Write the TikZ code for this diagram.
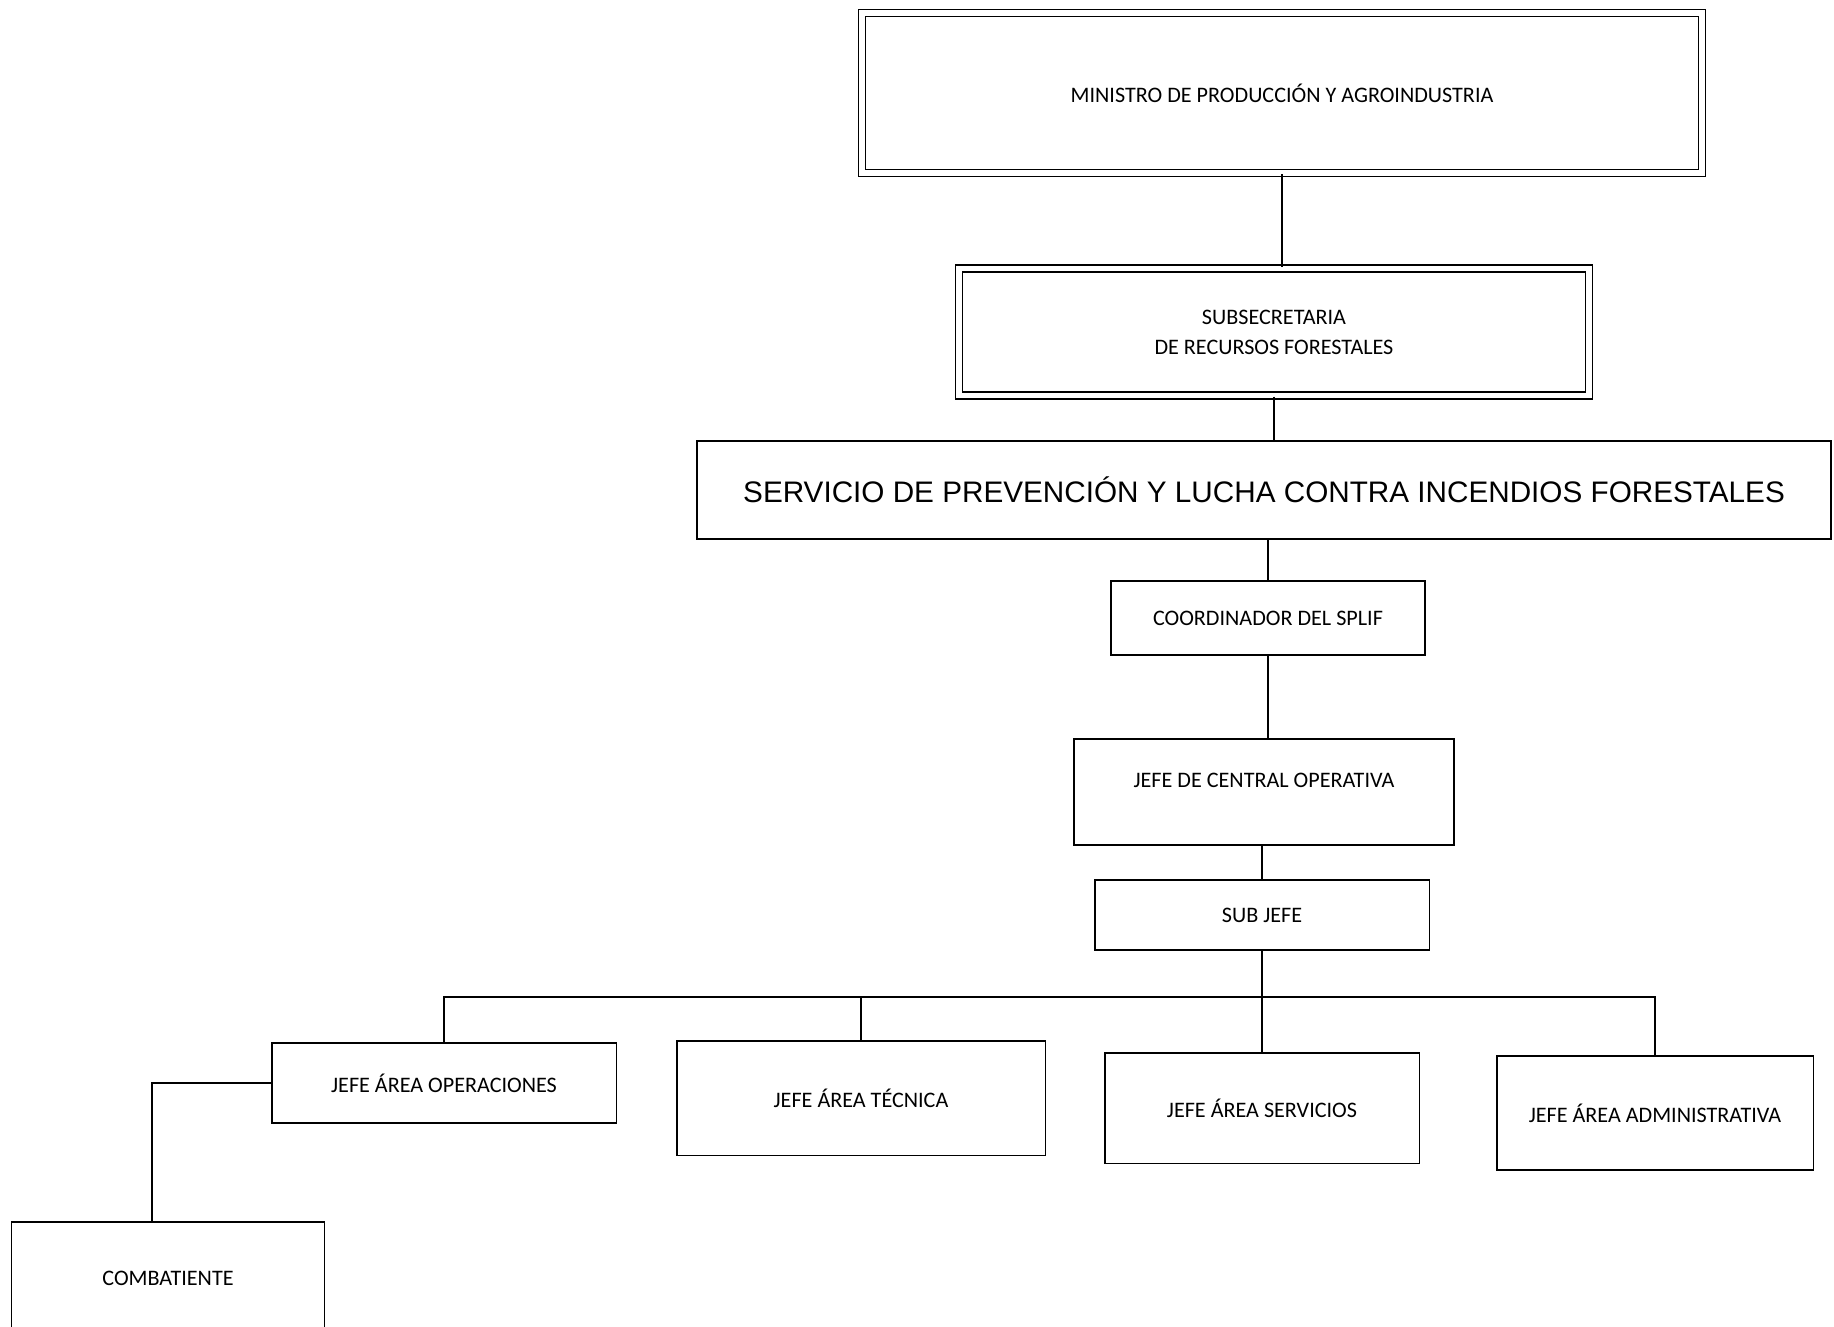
\documentclass[tikz,border=0pt]{standalone}
\usepackage{fontspec}
\setmainfont{Carlito}
\newfontfamily\bigfont{Liberation Sans}
\tikzset {
    box/.style = {draw, line width = 1.1pt, inner sep = 2pt, align = center,
        font = \fontsize{12.6}{17}\selectfont},
    double box/.style = {box, double, line width = 1pt, double distance = 3pt},
    link/.style = {line width = 0.9pt}
}
\begin{document}
\begin{tikzpicture}[x = 0.02cm, y = -0.02cm]
    \useasboundingbox (0, 0) rectangle (1834, 1326);
    % upper chain
    \node (min) [double box, minimum width = 16.8cm, minimum height = 3.2cm]
        at (1282, 93) {MINISTRO DE PRODUCCIÓN Y AGROINDUSTRIA};
    \node (sub) [double box, minimum width = 12.6cm, minimum height = 2.55cm]
        at (1274, 332) {SUBSECRETARIA\\DE RECURSOS FORESTALES};
    \node (spl) [box, minimum width = 22.7cm, minimum height = 1.95cm,
        font = \bigfont\fontsize{16.9}{19}\selectfont]
        at (1264, 490) {SERVICIO DE PREVENCIÓN Y LUCHA CONTRA INCENDIOS FORESTALES};
    \node (coord) [box, minimum width = 6.28cm, minimum height = 1.48cm]
        at (1268, 618) {COORDINADOR DEL SPLIF};
    \node (central) [box, minimum width = 7.6cm, minimum height = 2.12cm,
        text depth = 13pt]
        at (1264, 792) {JEFE DE CENTRAL OPERATIVA};
    \node (subjefe) [box, minimum width = 6.7cm, minimum height = 1.4cm]
        at (1262, 915) {SUB JEFE};
    % areas
    \node (oper) [box, minimum width = 6.9cm, minimum height = 1.6cm]
        at (444, 1083) {JEFE ÁREA OPERACIONES};
    \node (tec) [box, minimum width = 7.38cm, minimum height = 2.3cm]
        at (861, 1098) {JEFE ÁREA TÉCNICA};
    \node (serv) [box, minimum width = 6.3cm, minimum height = 2.22cm]
        at (1262, 1108) {JEFE ÁREA SERVICIOS};
    \node (admin) [box, minimum width = 6.34cm, minimum height = 2.28cm]
        at (1655, 1113) {JEFE ÁREA ADMINISTRATIVA};
    \node (comb) [box, minimum width = 6.26cm, minimum height = 2.26cm]
        at (168, 1278) {COMBATIENTE};
    \coordinate (bar) at (0, 997);
    % connectors
    \draw [link] (min.south) -- (min.south |- sub.north);
    \draw [link] (sub.south) -- (sub.south |- spl.north);
    \draw [link] (coord.north |- spl.south) -- (coord.north);
    \draw [link] (coord.south) -- (coord.south |- central.north);
    \draw [link] (subjefe.north |- central.south) -- (subjefe.north);
    \draw [link] (subjefe) -- (serv);
    \draw [link] (oper.north) |- (bar -| admin.north) -- (admin.north);
    \draw [link] (tec.north) -- (tec.north |- bar);
    \draw [link] (oper.west) -| ([xshift = -0.32cm]comb.north);
\end{tikzpicture}
\end{document}
